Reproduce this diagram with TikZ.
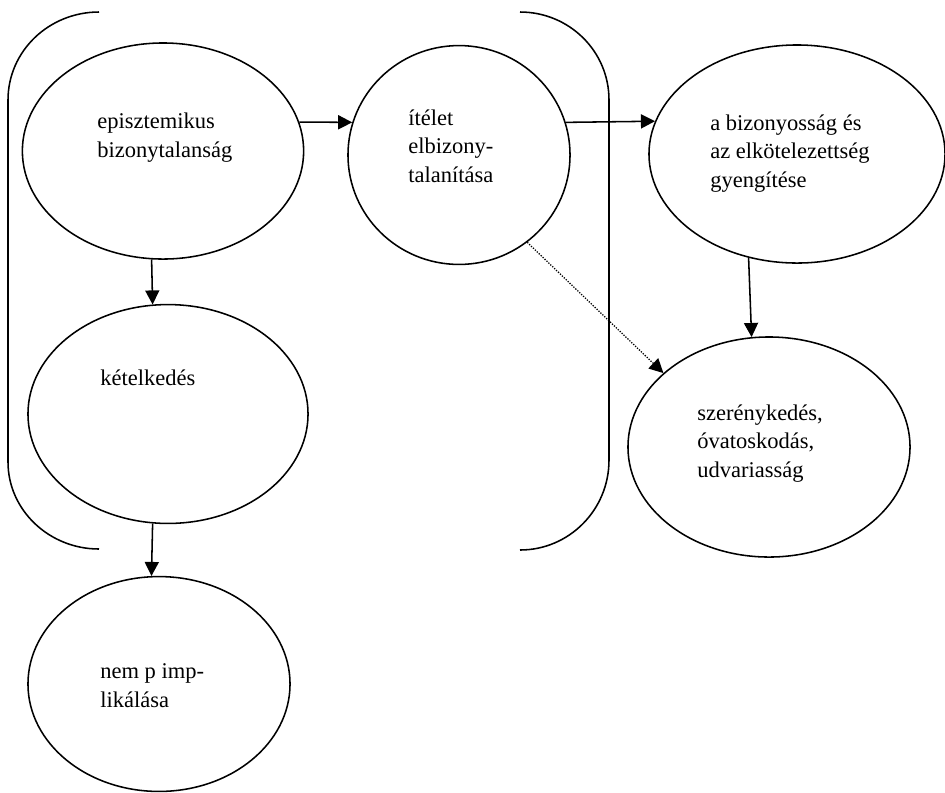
\documentclass[tikz,border=0pt]{standalone}
\usepackage{fontspec}
\setmainfont{Liberation Serif}
\usetikzlibrary{shapes, positioning, arrows.meta}

\begin{document}
\begin{tikzpicture}[x=0.025cm, y=-0.025cm,
        oval/.style={ellipse, draw, line width=1.1pt, inner sep=0pt},
        txt/.style={anchor=base west, align=left, inner sep=0pt, font=\fontsize{16}{20}\selectfont},
        arr/.style={line width=1.1pt, -{Triangle[length=10pt, width=10pt]}}]
        \useasboundingbox (0, 0) rectangle (945, 792);

        \node[oval, minimum width=7.03cm, minimum height=5.4cm] (ep) at (163, 151) {};
        \node[oval, minimum width=5.55cm, minimum height=5.47cm] (it) at (459, 155) {};
        \node[oval, minimum width=7.4cm, minimum height=5.45cm] (bi) at (797, 154) {};
        \node[oval, minimum width=7.0cm, minimum height=5.47cm] (ke) at (168, 414) {};
        \node[oval, minimum width=7.05cm, minimum height=5.5cm] (sz) at (769, 447) {};
        \node[oval, minimum width=6.55cm, minimum height=5.37cm] (np) at (159, 684) {};

        % text sits on the baseline of its last line
        \node[txt] (ep-t) at (97, 157) {episztemikus\\bizonytalanság};
        \node[txt] (it-t) at (408, 182) {ítélet\\elbizony-\\talanítása};
        \node[txt] (bi-t) at (710, 187) {a bizonyosság és\\az elkötelezettség\\gyengítése};
        \node[txt] (ke-t) at (100, 385) {kételkedés};
        \node[txt] (sz-t) at (697, 477) {szerénykedés,\\óvatoskodás,\\udvariasság};
        \node[txt] (np-t) at (100, 707) {nem p imp-\\likálása};

        % brackets
        \draw[line width=1.1pt] (99, 12) .. controls (49, 12) and (8, 51) .. (8, 100)
            -- (8, 462) .. controls (8, 510) and (49, 549) .. (99, 549);
        \draw[line width=1.1pt] (520, 12) .. controls (569, 12) and (609, 51) .. (609, 100)
            -- (609, 460) .. controls (609, 510) and (569, 550) .. (520, 550);

        \draw[arr] (ep.12) to (it.163);
        \draw[arr] (it.17) to (bi.167);
        \draw[arr] (ep.-96) to (ke.98);
        \draw[arr] (ke.-98) to (np.94);
        \draw[arr] (bi.-115) to (sz.99);
        \draw[arr, line width=0.9pt, densely dotted] (it.-52) to (sz.145);
    \end{tikzpicture}
\end{document}
